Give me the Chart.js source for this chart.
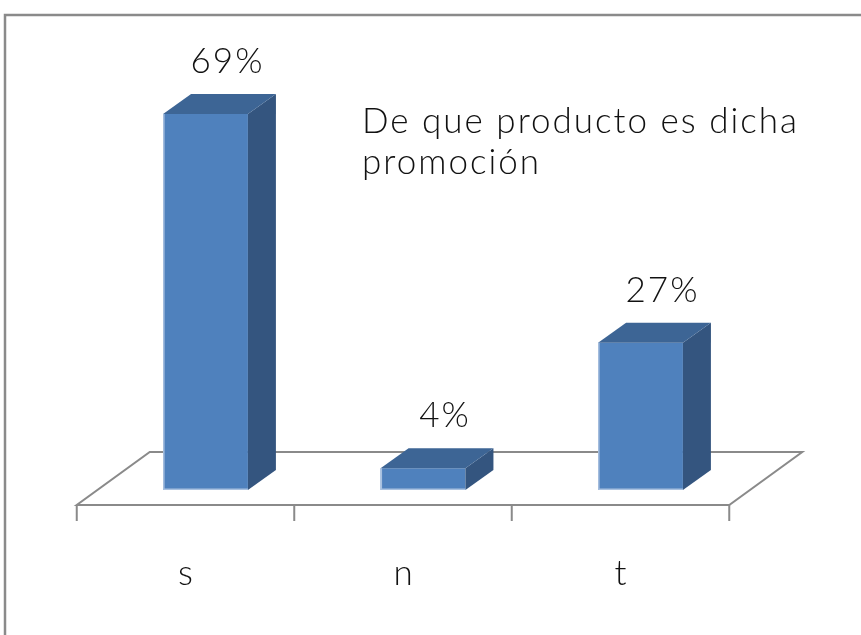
<!DOCTYPE html>
<html><head><meta charset="utf-8">
<script src="https://cdn.jsdelivr.net/npm/chart.js@4.4.0/dist/chart.umd.min.js"></script>
<style>html,body{margin:0;padding:0;background:#fff;overflow:hidden;}</style>
</head><body>
<canvas id="c" width="861" height="635"></canvas>
<script>
const categories = ['s', 'n', 't'];
const values = [69, 4, 27];
const valueLabels = ['69%', '4%', '27%'];
const titleLines = ['De que producto es dicha', 'promoción'];

const FONT = '300 35px Lato, "Open Sans", sans-serif';
const depth = { dx: 28, dy: -20 };
const floorDepth = { dx: 73, dy: -53 };
const floorShift = 20;   // bar sits this far behind floor front (x)
const floorFront = 15;   // floor front below bar base (y)
const gray = '#8a8a8a';

function setText(ctx, align) {
  ctx.fillStyle = '#111';
  ctx.font = FONT;
  ctx.textAlign = align;
  ctx.textBaseline = 'alphabetic';
  if ('letterSpacing' in ctx) ctx.letterSpacing = '2px';
}

const threeD = {
  id: 'threeD',
  beforeDraw(chart) {
    const ctx = chart.ctx;
    ctx.save();
    ctx.fillStyle = '#fff';
    ctx.fillRect(0, 0, chart.width, chart.height);
    ctx.strokeStyle = gray;
    ctx.lineWidth = 2.5;
    ctx.beginPath();
    ctx.moveTo(5, chart.height + 5);
    ctx.lineTo(5, 15);
    ctx.lineTo(chart.width + 5, 15);
    ctx.stroke();
    ctx.restore();
  },
  beforeDatasetsDraw(chart) {
    const ctx = chart.ctx;
    const xs = chart.scales.x, ys = chart.scales.y;
    const base = ys.getPixelForValue(0);
    const fy = base + floorFront;
    const step = xs.getPixelForValue(1) - xs.getPixelForValue(0);
    const fl = xs.getPixelForValue(0) - step / 2 - floorShift;
    const fr = xs.getPixelForValue(categories.length - 1) + step / 2 - floorShift;
    ctx.save();
    ctx.strokeStyle = gray;
    ctx.lineWidth = 2;
    ctx.beginPath();
    ctx.moveTo(fl, fy);
    ctx.lineTo(fr, fy);
    ctx.lineTo(fr + floorDepth.dx, fy + floorDepth.dy);
    ctx.lineTo(fl + floorDepth.dx, fy + floorDepth.dy);
    ctx.closePath();
    ctx.stroke();
    ctx.beginPath();
    for (let i = 0; i <= categories.length; i++) {
      const x = fl + i * step;
      ctx.moveTo(x, fy);
      ctx.lineTo(x, fy + 16);
    }
    ctx.stroke();
    // category labels
    setText(ctx, 'center');
    categories.forEach((c, i) => {
      ctx.fillText(c, xs.getPixelForValue(i) - floorShift + 1, 585);
    });
    // title
    setText(ctx, 'left');
    ctx.fillText(titleLines[0], 362, 133);
    ctx.fillText(titleLines[1], 362, 174);
    ctx.restore();
  },
  afterDatasetsDraw(chart) {
    const ctx = chart.ctx;
    const meta = chart.getDatasetMeta(0);
    ctx.save();
    meta.data.forEach((bar, i) => {
      const p = bar.getProps(['x', 'y', 'base', 'width'], true);
      const x1 = p.x - p.width / 2, x2 = p.x + p.width / 2;
      const top = p.y, base = p.base;
      // side
      ctx.fillStyle = '#34557f';
      ctx.beginPath();
      ctx.moveTo(x2, top);
      ctx.lineTo(x2 + depth.dx, top + depth.dy);
      ctx.lineTo(x2 + depth.dx, base + depth.dy);
      ctx.lineTo(x2, base);
      ctx.closePath();
      ctx.fill();
      // top
      ctx.fillStyle = '#3d6595';
      ctx.beginPath();
      ctx.moveTo(x1, top);
      ctx.lineTo(x1 + depth.dx, top + depth.dy);
      ctx.lineTo(x2 + depth.dx, top + depth.dy);
      ctx.lineTo(x2, top);
      ctx.closePath();
      ctx.fill();
      // light edges
      ctx.strokeStyle = '#a9c1e0';
      ctx.lineWidth = 1.5;
      ctx.beginPath();
      ctx.moveTo(x1 + 0.75, top);
      ctx.lineTo(x1 + 0.75, base - 0.75);
      ctx.lineTo(x2, base - 0.75);
      ctx.stroke();
      // value label
      setText(ctx, 'center');
      ctx.fillText(valueLabels[i], p.x + 22, top + depth.dy - 21);
    });
    ctx.restore();
  }
};

new Chart(document.getElementById('c'), {
  type: 'bar',
  data: {
    labels: categories,
    datasets: [{
      data: values,
      backgroundColor: '#4f81bd',
      borderWidth: 0,
      barPercentage: 0.39,
      categoryPercentage: 1
    }]
  },
  options: {
    responsive: false,
    animation: false,
    devicePixelRatio: 1,
    layout: { padding: { left: 96.75, right: 111.75, top: 54, bottom: 145 } },
    plugins: { legend: { display: false }, tooltip: { enabled: false }, title: { display: false } },
    scales: {
      x: { display: false },
      y: { display: false, min: 0, max: 80 }
    }
  },
  plugins: [threeD]
});
</script>
</body></html>
